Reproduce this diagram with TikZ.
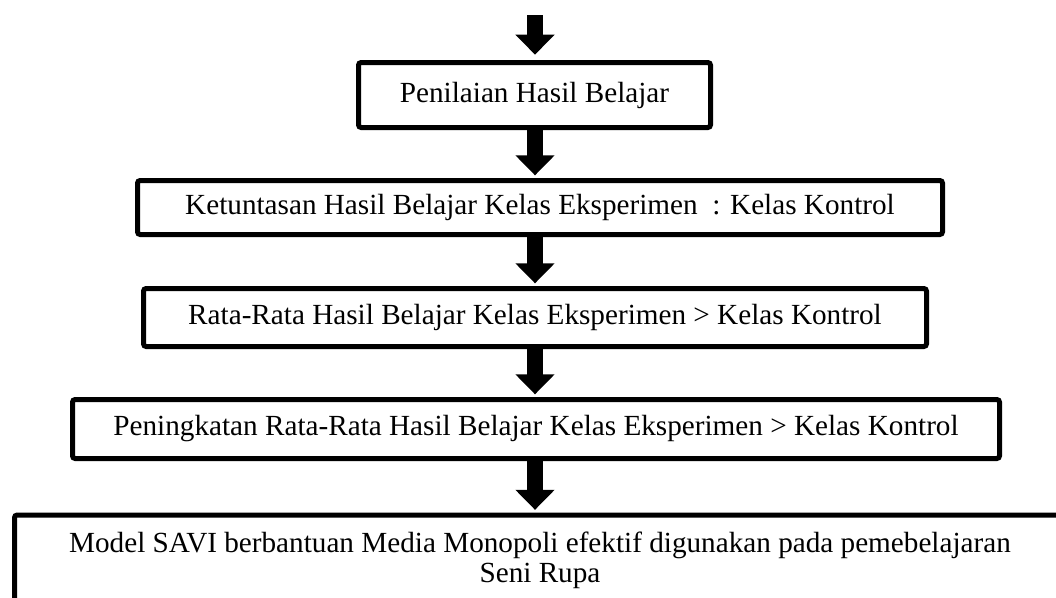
\documentclass[tikz,border=0pt]{standalone}
\usepackage{fontspec}
\setmainfont{Liberation Serif}
\usetikzlibrary{arrows.meta}

\begin{document}
\begin{tikzpicture}[x=0.75pt, y=-0.75pt,
  box/.style={draw, line width=3.75pt, rounded corners=2pt, align=center,
    inner sep=0pt, font=\fontsize{21.9}{22.5}\selectfont},
  down/.style={line width=12pt, shorten >=2pt,
    -{Triangle[width=28.5pt, length=15pt]}}]
  \useasboundingbox (0,0) rectangle (1056,597);
  \clip (0,0) rectangle (1056,597);
  \coordinate (start) at (535,15);
  \node[box, minimum width=264pt, minimum height=48.75pt] (nilai) at (534.5,95) {Penilaian Hasil Belajar};
  \node[box, minimum width=603.75pt, minimum height=40.5pt] (tuntas) at (540,207.5) {Ketuntasan Hasil Belajar Kelas Eksperimen\ \ : Kelas Kontrol};
  \node[box, minimum width=587.25pt, minimum height=43.5pt] (rata) at (535,317.5) {Rata-Rata Hasil Belajar Kelas Eksperimen > Kelas Kontrol};
  \node[box, minimum width=695.25pt, minimum height=44.25pt] (naik) at (536,429) {Peningkatan Rata-Rata Hasil Belajar Kelas Eksperimen > Kelas Kontrol};
  % last box runs past the lower and right edges
  \node[box, anchor=north, minimum width=788.25pt, inner ysep=13pt] (savi) at (540,512.5) {Model SAVI berbantuan Media Monopoli efektif digunakan pada pemebelajaran\\Seni Rupa\rule[-30pt]{0pt}{0pt}};
  \draw[down, shorten >=4pt] (start) -- (start |- nilai.north);
  \draw[down] (start |- nilai.south) -- (start |- tuntas.north);
  \draw[down] (start |- tuntas.south) -- (start |- rata.north);
  \draw[down] (start |- rata.south) -- (start |- naik.north);
  \draw[down] (start |- naik.south) -- (start |- savi.north);
\end{tikzpicture}
\end{document}
